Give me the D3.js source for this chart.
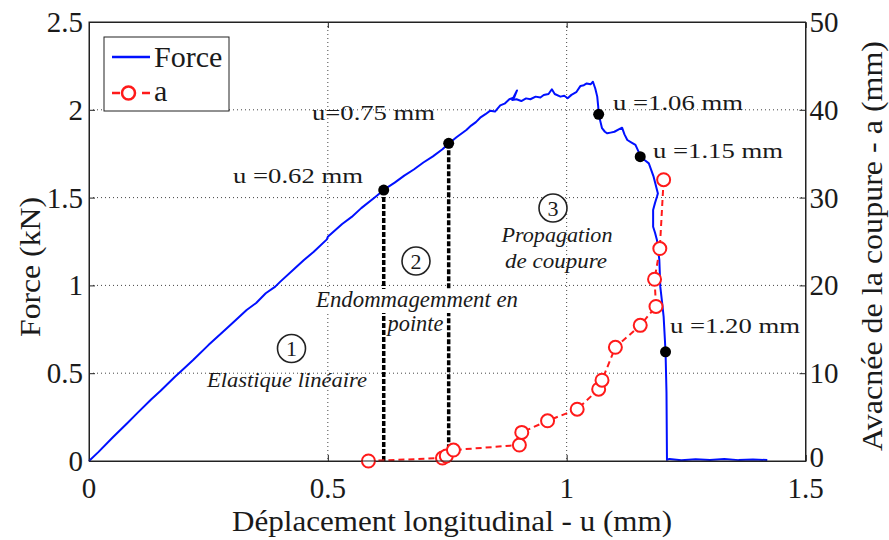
<!DOCTYPE html>
<html><head><meta charset="utf-8">
<script src="https://cdn.jsdelivr.net/npm/d3@7"></script>
<style>body{margin:0;background:#fff}svg{display:block}</style>
</head><body>
<svg id="chart" width="889" height="540"></svg>
<script>
// ---- data ----
const forceU = [0,0.02,0.05,0.08,0.1,0.13,0.15,0.18,0.2,0.218,0.25,0.28,0.3,0.33,0.35,0.37,0.39,0.4,0.43,0.45,0.47,0.498,0.5,0.53,0.55,0.57,0.6,0.62,0.64,0.66,0.68,0.70,0.72,0.74,0.752,0.77,0.79,0.80,0.81,0.819,0.83,0.84,0.85,0.861,0.87,0.88,0.89,0.896,0.886,0.895,0.905,0.915,0.924,0.935,0.945,0.952,0.962,0.969,0.975,0.987,0.995,1.002,1.01,1.02,1.029,1.036,1.042,1.05,1.055,1.060,1.064,1.066,1.067,1.074,1.08,1.085,1.092,1.10,1.11,1.116,1.121,1.127,1.135,1.144,1.150,1.154,1.160,1.165,1.172,1.182,1.191,1.189,1.185,1.181,1.181,1.185,1.189,1.194,1.196,1.200,1.203,1.207,1.209,1.210,1.215,1.24,1.27,1.30,1.33,1.36,1.39,1.42];
const forceF = [0,0.052,0.135,0.215,0.27,0.35,0.40,0.48,0.53,0.575,0.66,0.735,0.785,0.86,0.90,0.955,0.993,1.02,1.095,1.145,1.19,1.262,1.277,1.35,1.39,1.44,1.505,1.55,1.585,1.625,1.66,1.70,1.735,1.775,1.805,1.845,1.885,1.91,1.93,1.955,1.975,1.995,1.99,2.025,2.035,2.06,2.07,2.11,2.056,2.06,2.05,2.065,2.06,2.075,2.07,2.084,2.09,2.117,2.09,2.075,2.08,2.066,2.085,2.10,2.136,2.14,2.15,2.145,2.16,2.12,2.075,2.02,1.974,1.895,1.875,1.866,1.87,1.875,1.89,1.898,1.86,1.828,1.815,1.80,1.765,1.733,1.72,1.71,1.695,1.619,1.524,1.505,1.47,1.43,1.334,1.30,1.259,1.145,0.993,0.898,0.822,0.622,0.387,0.006,0.012,0.004,0.01,0.006,0.012,0.005,0.009,0.005];
const crackU = [0.585,0.740,0.748,0.763,0.901,0.906,0.960,1.022,1.067,1.074,1.102,1.154,1.187,1.184,1.195,1.203];
const crackA = [0,0.34,0.57,1.25,1.82,3.26,4.58,5.9,8.18,9.2,12.95,15.45,17.6,20.7,24.2,32.04];
const markU = [0.617,0.753,1.067,1.154,1.207];
const markF = [1.543,1.809,1.974,1.733,0.622];
const markLabels = ["u =0.62 mm","u=0.75 mm","u =1.06 mm","u =1.15 mm","u =1.20 mm"];
const xTicks = [0,0.5,1,1.5];
const yTicks = [0,0.5,1,1.5,2,2.5];
const y2Ticks = [0,10,20,30,40,50];
const legendLabels = ["Force","a"];

// ---- layout ----
const svg = d3.select("#chart");
const L = 89, R = 805.5, T = 22, B = 461;
const x = d3.scaleLinear().domain([0,1.5]).range([L,R]);
const y = d3.scaleLinear().domain([0,2.5]).range([B,T]);
const y2 = d3.scaleLinear().domain([0,50]).range([B,T]);
const ink = "#1a1a1a";

function txt(s, px, py, size, opts={}) {
  const t = svg.append("text").attr("x",px).attr("y",py)
    .style("font-family","\"Liberation Serif\"")
    .style("font-size",size+"px").attr("fill",opts.fill||ink)
    .attr("text-anchor",opts.anchor||"start").text(s);
  if (opts.italic) t.style("font-style","italic");
  if (opts.len) t.attr("textLength",opts.len).attr("lengthAdjust","spacingAndGlyphs");
  if (opts.rot) t.attr("transform",`rotate(${opts.rot},${px},${py})`);
  return t;
}

// grid
const grid = svg.append("g").attr("stroke","#444").attr("stroke-width",1).attr("stroke-dasharray","1,3");
grid.selectAll(".gx").data(xTicks.filter(d=>d>0&&d<1.5)).enter().append("line")
  .attr("x1",d=>x(d)).attr("x2",d=>x(d)).attr("y1",T).attr("y2",B);
grid.selectAll(".gy").data(yTicks.filter(d=>d>0&&d<2.5)).enter().append("line")
  .attr("x1",L).attr("x2",R).attr("y1",d=>y(d)).attr("y2",d=>y(d));

// axes (ticks inward)
const axB = svg.append("g").attr("transform",`translate(0,${B})`).call(d3.axisTop(x).tickValues(xTicks).tickSize(6).tickFormat(""));
const axT = svg.append("g").attr("transform",`translate(0,${T})`).call(d3.axisBottom(x).tickValues(xTicks).tickSize(6).tickFormat(""));
const axL = svg.append("g").attr("transform",`translate(${L},0)`).call(d3.axisRight(y).tickValues(yTicks).tickSize(6).tickFormat(""));
const axR = svg.append("g").attr("transform",`translate(${R},0)`).call(d3.axisLeft(y2).tickValues(y2Ticks).tickSize(6).tickFormat(""));
[axB,axT,axL,axR].forEach(a=>{a.selectAll("path").attr("stroke","#222");a.selectAll("line").attr("stroke","#222");});

// tick labels
xTicks.forEach(d=>txt(String(d),x(d),498,29,{anchor:"middle"}));
yTicks.forEach(d=>txt(String(d),L-6,y(d)+10,29,{anchor:"end"}));
y2Ticks.forEach(d=>txt(String(d),R+4,y2(d)+(d===0?6:10),29));

// titles
txt("Déplacement longitudinal - u (mm)",452,531,29,{anchor:"middle",len:440});
txt("Force (kN)",40,267,29,{anchor:"middle",rot:-90,len:140});
txt("Avacnée de la coupure - a (mm)",882,246,29,{anchor:"middle",rot:-90,len:410});

// force curve
const forceData = forceU.map((u,i)=>[u,forceF[i]]);
svg.append("path").datum(forceData)
  .attr("d",d3.line().x(d=>x(d[0])).y(d=>y(d[1])))
  .attr("fill","none").attr("stroke","#0010ff").attr("stroke-width",2).attr("stroke-linejoin","round");

// vertical dashed lines at first two markers
svg.selectAll(".vl").data([0,1]).enter().append("line")
  .attr("x1",i=>x(markU[i])).attr("x2",i=>x(markU[i]))
  .attr("y1",i=>y(markF[i])).attr("y2",y(0))
  .attr("stroke","#000").attr("stroke-width",3.5).attr("stroke-dasharray","5,2");

// crack curve
const crackData = crackU.map((u,i)=>[u,crackA[i]]);
svg.append("path").datum(crackData)
  .attr("d",d3.line().x(d=>x(d[0])).y(d=>y2(d[1])))
  .attr("fill","none").attr("stroke","#ff1a1a").attr("stroke-width",2).attr("stroke-dasharray","6,4");
svg.selectAll(".cm").data(crackData).enter().append("circle")
  .attr("cx",d=>x(d[0])).attr("cy",d=>y2(d[1])).attr("r",6.5)
  .attr("fill","#fff").attr("stroke","#ff1a1a").attr("stroke-width",2);

// black markers
svg.selectAll(".bm").data(markU).enter().append("circle")
  .attr("cx",d=>x(d)).attr("cy",(d,i)=>y(markF[i])).attr("r",5.5).attr("fill","#000");

// marker labels
const labPos = [[233,183],[312,120],[613,110],[653,158],[670,333]];
markLabels.forEach((s,i)=>txt(s,labPos[i][0],labPos[i][1],22,{len:i===1?123:130}));

// region labels
function circled(n,cx,cy){
  svg.append("circle").attr("cx",cx).attr("cy",cy).attr("r",14).attr("fill","#fff").attr("stroke","#222").attr("stroke-width",1.6);
  txt(n,cx,cy+7.5,22,{anchor:"middle"});
}
circled("1",291.5,348.5);
circled("2",416,261);
circled("3",553,208);
txt("Elastique linéaire",287,387,22,{anchor:"middle",italic:true,len:160});
svg.append("rect").attr("x",314).attr("y",289).attr("width",206).attr("height",24).attr("fill","#fff");
txt("Endommagemment en",417,307,22.5,{anchor:"middle",italic:true,len:202});
txt("pointe",415.5,331,22.5,{anchor:"middle",italic:true,len:56});
txt("Propagation",557,242,22,{anchor:"middle",italic:true,len:111});
txt("de coupure",556,268,22,{anchor:"middle",italic:true,len:102});

// plot box
svg.append("rect").attr("x",L).attr("y",T).attr("width",R-L).attr("height",B-T)
  .attr("fill","none").attr("stroke","#222").attr("stroke-width",1);

// legend
const lg = svg.append("g");
lg.append("rect").attr("x",104).attr("y",37).attr("width",125).attr("height",74)
  .attr("fill","#fff").attr("stroke","#222").attr("stroke-width",1);
lg.append("line").attr("x1",112).attr("x2",150).attr("y1",57).attr("y2",57).attr("stroke","#0010ff").attr("stroke-width",2.5);
lg.append("line").attr("x1",112).attr("x2",150).attr("y1",93).attr("y2",93).attr("stroke","#ff1a1a").attr("stroke-width",2.5).attr("stroke-dasharray","8,22,8");
lg.append("circle").attr("cx",128.5).attr("cy",93).attr("r",6.5).attr("fill","#fff").attr("stroke","#ff1a1a").attr("stroke-width",2.5);
txt(legendLabels[0],154,67,30);
txt(legendLabels[1],154,101,30);
</script>
</body></html>
